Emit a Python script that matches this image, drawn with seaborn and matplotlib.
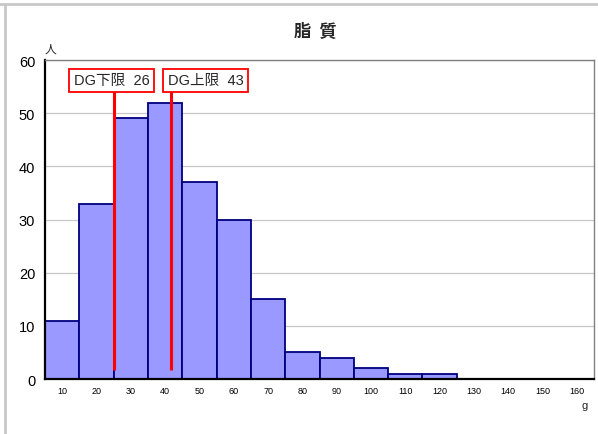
import matplotlib
matplotlib.use("Agg")
import matplotlib.pyplot as plt
import seaborn as sns
import pandas as pd
from matplotlib.lines import Line2D

categories = ["10", "20", "30", "40", "50", "60", "70", "80", "90", "100",
              "110", "120", "130", "140", "150", "160"]
counts = [11, 33, 49, 52, 37, 30, 15, 5, 4, 2, 1, 1, 0, 0, 0, 0]
dg_labels = ["DG下限  26", "DG上限  43"]
dg_positions = [1.51, 3.18]  # positions in category-index units
y_ticks = [0, 10, 20, 30, 40, 50, 60]

sns.set_theme(style="white")
plt.rcParams['font.family'] = ['Noto Sans CJK JP', 'DejaVu Sans']

df = pd.DataFrame({"cat": categories, "n": counts})

fig = plt.figure(figsize=(5.98, 4.35), dpi=100)
ax = fig.add_axes([45/598, 1 - 380/435, (594-45)/598, (380-61)/435])

sns.barplot(data=df, x="cat", y="n", ax=ax, color="#9999FF", saturation=1,
            width=1.0, edgecolor="#000080", linewidth=1.3, zorder=2)

ax.set_xlim(-0.5, len(categories) - 0.5)
ax.set_ylim(0, 60)
ax.set_yticks(y_ticks)
ax.yaxis.grid(True, color="#c8c8c8", linewidth=0.9, zorder=0)
ax.set_axisbelow(True)
ax.set_xlabel("")
ax.set_ylabel("")
ax.tick_params(axis="y", labelsize=10.5, length=0, pad=7, colors="black")
ax.tick_params(axis="x", labelsize=6.5, length=0, pad=5, colors="black")
for lab in ax.get_xticklabels() + ax.get_yticklabels():
    lab.set_fontfamily(["Liberation Sans", "DejaVu Sans"])

for side in ["left", "bottom"]:
    ax.spines[side].set_color("black")
    ax.spines[side].set_linewidth(1.6)
for side in ["top", "right"]:
    ax.spines[side].set_color("#808080")
    ax.spines[side].set_linewidth(1.0)

# DG lines and labels
label_x = [1.44, 4.18]
for pos, lab, lx in zip(dg_positions, dg_labels, label_x):
    ax.plot([pos, pos], [1.7, 54.2], color="red", linewidth=2.2, zorder=3,
            solid_capstyle="butt")
    ax.text(lx, 56.2, lab, ha="center", va="center", fontsize=10.5,
            fontfamily=["Liberation Sans", "Noto Sans CJK JP"], zorder=4,
            bbox=dict(boxstyle="square,pad=0.32", fc="white", ec="red", lw=1.3))

fig.text(315/598, 1 - 32/435, "脂  質", ha="center", va="center", fontsize=12.5,
         fontweight="bold")
fig.text(50/598, 1 - 49/435, "人", ha="center", va="center", fontsize=8.5)
fig.text(585/598, 1 - 406/435, "g", ha="center", va="center", fontsize=8,
         fontfamily=["Liberation Sans"])

# Outer chart frame lines
fig.add_artist(Line2D([0, 1], [1 - 5/435, 1 - 5/435], transform=fig.transFigure,
                      color="#c8c8c8", linewidth=2))
fig.add_artist(Line2D([5/598, 5/598], [0, 1 - 6/435], transform=fig.transFigure,
                      color="#c8c8c8", linewidth=2))

fig.savefig("out.png", dpi=100, facecolor="white")
